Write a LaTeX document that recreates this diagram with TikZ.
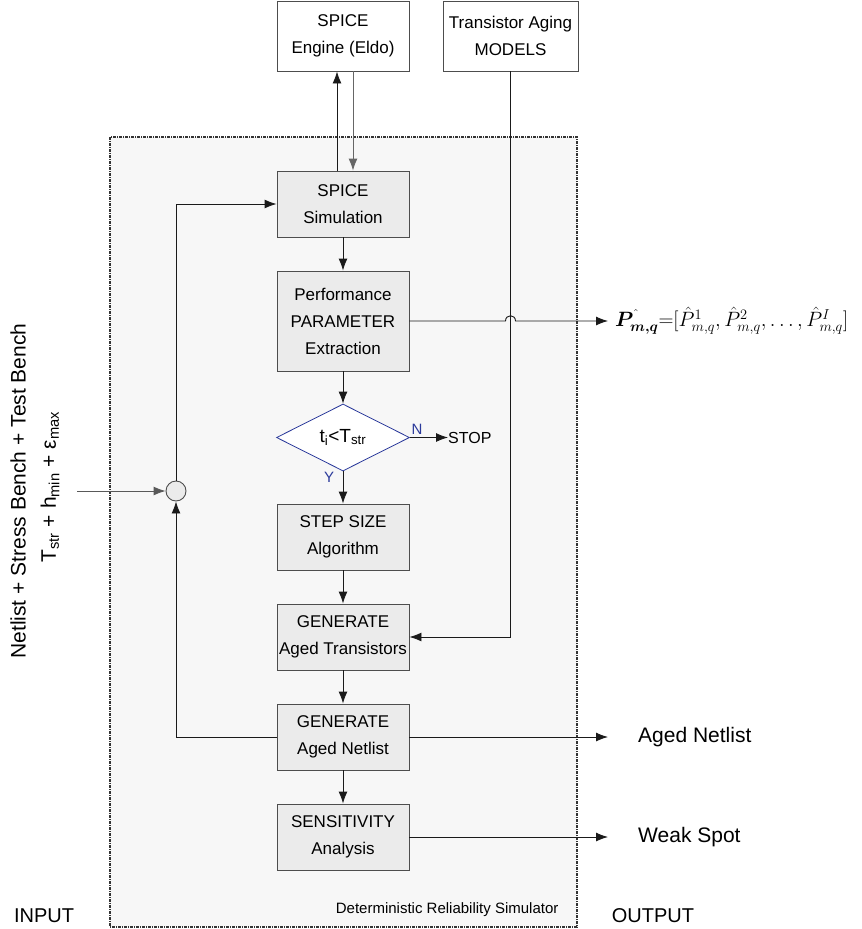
\documentclass[tikz,border=0pt]{standalone}
\usepackage{fontspec}
\setmainfont{Liberation Sans}
\usepackage{amsmath,bm}
\usetikzlibrary{arrows.meta,shapes.geometric,calc}
\definecolor{boxfill}{HTML}{EBEBEB}
\definecolor{boxline}{HTML}{4D4D4D}
\definecolor{framefill}{HTML}{F7F7F7}
\definecolor{framecol}{HTML}{333333}
\definecolor{decblue}{HTML}{2B3A9B}
\definecolor{wire}{HTML}{1A1A1A}
\tikzset{
  stage/.style={draw=boxline, fill=boxfill, line width=0.9pt, minimum width=132pt,
    minimum height=66pt, align=center, font=\fontsize{17}{27}\selectfont, inner sep=0pt},
  topbox/.style={stage, fill=white, minimum height=70pt},
  decision/.style={diamond, draw=decblue, fill=white, line width=0.8pt, minimum width=133pt,
    minimum height=67pt, inner sep=0pt, font=\fontsize{19}{22}\selectfont},
  arr/.style={draw=wire, line width=0.9pt, -{Latex[length=12pt,width=9pt]}},
  outlabel/.style={anchor=west, inner sep=0pt, font=\fontsize{21}{24}\selectfont},
}
\begin{document}
\begin{tikzpicture}[x=1pt,y=-1pt]
\useasboundingbox (0,0) rectangle (862,929);

% simulator frame
\draw[framecol, fill=framefill, line width=1.1pt, dash pattern=on 3pt off 1pt on 1pt off 1pt]
  (110,137) rectangle (577,927);
\node[anchor=east, font=\fontsize{15}{17}\selectfont] (frametitle) at (562,910) {Deterministic Reliability Simulator};

% external blocks
\node[topbox] (engine) at (343,36) {SPICE\\Engine (Eldo)};
\node[topbox, minimum width=135pt] (aging) at (510.5,36) {Transistor Aging\\MODELS};

% flow stages
\node[stage] (sim) at (343,204) {SPICE\\Simulation};
\node[stage, minimum height=100pt] (perf) at (343,321) {Performance\\PARAMETER\\Extraction};
\node[decision] (dec) at (343,437.5) {t\textsubscript{i}<T\textsubscript{str}};
\node[stage] (step) at (343,537) {STEP SIZE\\Algorithm};
\node[stage] (gtr) at (343,637) {GENERATE\\Aged Transistors};
\node[stage] (gnet) at (343,737) {GENERATE\\Aged Netlist};
\node[stage] (sens) at (343,837) {SENSITIVITY\\Analysis};

\node[circle, draw=boxline, fill=boxfill, line width=0.9pt, minimum size=20pt, inner sep=0pt] (sum) at (176,491) {};

\node[anchor=west, inner sep=0pt, font=\fontsize{16}{18}\selectfont] (stop) at (448,437.5) {STOP};
\node[decblue, font=\fontsize{15}{16}\selectfont] (nlab) at (417,429) {N};
\node[decblue, font=\fontsize{15}{16}\selectfont] (ylab) at (329,477) {Y};

% outputs
\node[outlabel] (anet) at (638,737) {Aged Netlist};
\node[outlabel] (weak) at (638,837) {Weak Spot};
\node[anchor=west, inner sep=0pt, font=\fontsize{21}{25}\selectfont] (fout) at (615,321)
  {$\bm{P}^{\,\hat{}}_{\bm{m,q}}{=}[\hat{P}^{1}_{m,q},\hat{P}^{2}_{m,q},\ldots,\hat{P}^{I}_{m,q}]$};

% inputs
\node[rotate=90, font=\fontsize{21}{24}\selectfont] (inlab1) at (18,491) {Netlist + Stress Bench + Test Bench};
\node[rotate=90, font=\fontsize{21}{24}\selectfont] (inlab2) at (50,487) {T\textsubscript{str} + h\textsubscript{min} + ε\textsubscript{max}};
\coordinate (inpt) at (77,491);

\node[font=\fontsize{20}{24}\selectfont] (inputlab) at (44,916) {INPUT};
\node[font=\fontsize{20}{24}\selectfont] (outputlab) at (653,916) {OUTPUT};

% connectors
\draw[arr] ([xshift=-6pt]sim.north) -- ([xshift=-6pt]engine.south);
\draw[arr, draw=black!60] ([xshift=10pt]engine.south) -- ([xshift=10pt]sim.north);
\draw[arr] (sim.south) -- (perf.north);
\draw[arr] (perf.south) -- (dec.north);
\draw[arr] (dec.south) -- (step.north);
\draw[arr] (dec.east) -- (stop.west);
\draw[arr] (step.south) -- (gtr.north);
\draw[arr] (gtr.south) -- (gnet.north);
\draw[arr] (gnet.south) -- (sens.north);
\draw[arr] (aging.south) |- (gtr.east);

\coordinate (hop) at (aging.south |- perf.east);
\draw[arr] (perf.east) -- ([xshift=-5pt]hop) .. controls +(0,-7) and +(0,-7) .. ([xshift=5pt]hop)
  -- ([xshift=-7pt]fout.west);

\draw[arr, draw=black!65] (inpt) -- (sum.west);
\draw[arr] (sum.north) |- (sim.west);
\draw[arr] (gnet.west) -| (sum.south);
\draw[arr] (gnet.east) -- ([xshift=-30pt]anet.west);
\draw[arr] (sens.east) -- ([xshift=-30pt]weak.west);
\end{tikzpicture}
\end{document}
